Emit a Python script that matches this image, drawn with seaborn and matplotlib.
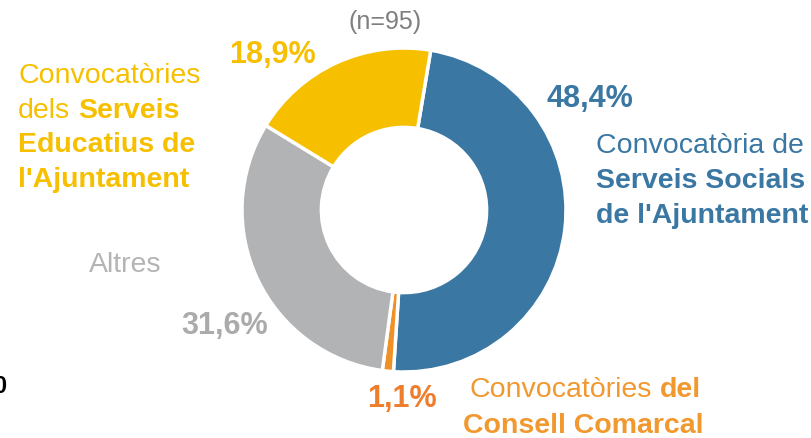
import matplotlib
matplotlib.use("Agg")
import matplotlib.pyplot as plt
from matplotlib.transforms import IdentityTransform
import seaborn as sns

sns.set_theme(style="white")
plt.rcParams["font.family"] = ["Liberation Sans", "DejaVu Sans"]

# Data
categories = [
    "Convocatòria de Serveis Socials de l'Ajuntament",
    "Convocatòries del Consell Comarcal",
    "Altres",
    "Convocatòries dels Serveis Educatius de l'Ajuntament",
]
shares = [48.4, 1.1, 31.6, 18.9]
pct_labels = ["48,4%", "1,1%", "31,6%", "18,9%"]
sample_note = "(n=95)"

slice_colors = ["#3A77A3", "#EF9126", "#B2B3B5", "#F6C000"]
pct_colors = ["#3A77A3", "#EE7E2E", "#ABABAB", "#F6C000"]
label_colors = ["#3A77A3", "#F1982F", "#B4B4B4", "#F6C000"]

W, H, DPI = 812, 438, 100
fig = plt.figure(figsize=(W / DPI, H / DPI), dpi=DPI)
fig.patch.set_facecolor("white")

# Donut axes: centre (404, 210) from top-left, radius 162 px
cx, cy, r = 404, 210, 162
ax = fig.add_axes([(cx - r) / W, (H - cy - r) / H, 2 * r / W, 2 * r / H])
ax.pie(
    shares,
    colors=slice_colors,
    startangle=80.5,
    counterclock=False,
    radius=1.0,
    wedgeprops=dict(width=0.49, edgecolor="white", linewidth=2.5),
)
ax.set_xlim(-1, 1)
ax.set_ylim(-1, 1)
ax.set_aspect("equal")
ax.axis("off")

renderer = fig.canvas.get_renderer()
ident = IdentityTransform()


def px_text(x, y, s, **kw):
    """Place text at pixel (x, y) measured from the top-left corner."""
    return fig.text(x, H - y, s, transform=ident, **kw)


def rich_line(x, y, parts, color, size, ha="left"):
    """Draw one line made of (text, weight) runs, separated by single spaces."""
    space = size * DPI / 72 * 0.278
    # measure total width first
    widths = []
    for txt, wt in parts:
        t = px_text(0, 0, txt, fontsize=size, fontweight=wt, color=color)
        widths.append(t.get_window_extent(renderer).width)
        t.remove()
    total = sum(widths) + space * (len(parts) - 1)
    if ha == "center":
        x = x - total / 2
    elif ha == "right":
        x = x - total
    for (txt, wt), w in zip(parts, widths):
        px_text(x, y, txt, fontsize=size, fontweight=wt, color=color,
                ha="left", va="baseline")
        x += w + space


# Sample size note
px_text(385, 29, sample_note, fontsize=18, color="#7F7F7F", ha="center", va="baseline")

# Percentage labels
pct_pos = [(590, 107), (402, 407), (225, 334), (272, 63)]
for lbl, col, (x, y) in zip(pct_labels, pct_colors, pct_pos):
    px_text(x, y, lbl, fontsize=22, fontweight="bold", color=col,
            ha="center", va="baseline")

LS = 20.5

# Serveis Socials
c = label_colors[0]
rich_line(596, 153, [("Convocatòria de", "normal")], c, LS)
rich_line(596, 188, [("Serveis Socials", "bold")], c, LS)
rich_line(596, 223, [("de l'Ajuntament", "bold")], c, LS)

# Consell Comarcal
c = label_colors[1]
rich_line(585, 397, [("Convocatòries", "normal"), ("del", "bold")], c, LS, ha="center")
rich_line(583, 433, [("Consell Comarcal", "bold")], c, LS, ha="center")

# Altres
px_text(125, 272, "Altres", fontsize=LS, color=label_colors[2], ha="center", va="baseline")

# Serveis Educatius
c = label_colors[3]
rich_line(18, 83, [("Convocatòries", "normal")], c, LS)
rich_line(18, 118, [("dels", "normal"), ("Serveis", "bold")], c, LS)
rich_line(18, 152, [("Educatius de", "bold")], c, LS)
rich_line(18, 187, [("l'Ajuntament", "bold")], c, LS)

# Clipped character at the left margin
px_text(6, 393, "0", fontsize=17, fontweight="bold", color="black", ha="right", va="baseline")

fig.savefig("out.png", dpi=DPI, facecolor="white")
